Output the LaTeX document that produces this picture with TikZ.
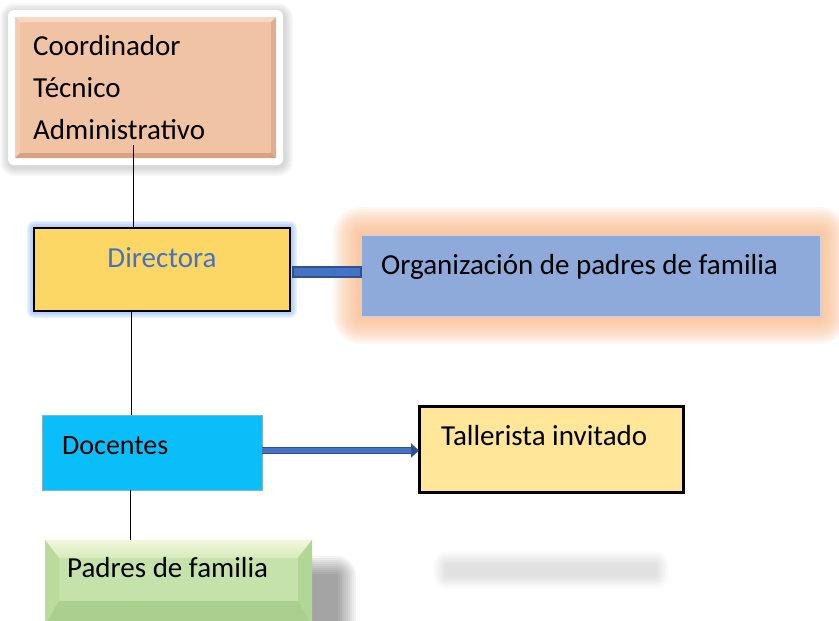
\documentclass[tikz,border=0pt]{standalone}
\usepackage{fontspec}
\setmainfont{Carlito}
\usetikzlibrary{arrows.meta,calc}
\pgfdeclarelayer{bg}
\pgfsetlayers{bg,main}
\definecolor{coordfill}{HTML}{F1C3A5}
\definecolor{coordlight}{HTML}{F8D8C3}
\definecolor{coordlight2}{HTML}{F5CDB3}
\definecolor{coorddark}{HTML}{D6A381}
\definecolor{coorddark2}{HTML}{DFAE8E}
\definecolor{dirfill}{HTML}{FDD766}
\definecolor{dirtext}{HTML}{4472C4}
\definecolor{dirglow}{HTML}{8FB4F0}
\definecolor{orgfill}{HTML}{8EAADB}
\definecolor{orgborder}{HTML}{C5D3EC}
\definecolor{orgglow}{HTML}{F8B98A}
\definecolor{barblue}{HTML}{4472C4}
\definecolor{bardark}{HTML}{2F528F}
\definecolor{docfill}{HTML}{0ABFF9}
\definecolor{docborder}{HTML}{7FB2D8}
\definecolor{talfill}{HTML}{FFE699}
\definecolor{padface}{HTML}{C6E2AB}
\definecolor{padtop}{HTML}{F2F8DA}
\definecolor{padtop2}{HTML}{D5EBBB}
\definecolor{padleft}{HTML}{BADB9C}
\definecolor{padright}{HTML}{B2D693}
\definecolor{padbot}{HTML}{A9D08E}
\begin{document}
\begin{tikzpicture}[x=1pt,y=-1pt,
  box/.style={rectangle, inner sep=0pt, outer sep=0pt, anchor=north west},
  lbl/.style={font=\fontsize{29}{43}\selectfont, inner sep=0pt, anchor=base west},
  conn/.style={draw=black, line width=0.9pt}]
\useasboundingbox (0,0) rectangle (839,621);

% frame and boxes
\node[box, fill=white, rounded corners=6pt, minimum width=275pt, minimum height=155pt] (frame) at (8,10) {};
\node[box, fill=coordfill, minimum width=261pt, minimum height=141pt] (coord) at (15,17) {};
\fill[coordlight] (coord.north west) -- (coord.north east) -- ($(coord.north east)+(-5,5)$) -- ($(coord.north west)+(5,5)$) -- cycle;
\fill[coordlight2] (coord.north west) -- ($(coord.north west)+(5,5)$) -- ($(coord.south west)+(5,-5)$) -- (coord.south west) -- cycle;
\fill[coorddark2] (coord.north east) -- ($(coord.north east)+(-5,5)$) -- ($(coord.south east)+(-5,-5)$) -- (coord.south east) -- cycle;
\fill[coorddark] (coord.south west) -- ($(coord.south west)+(5,-5)$) -- ($(coord.south east)+(-5,-5)$) -- (coord.south east) -- cycle;

\node[box, fill=dirfill, draw=black, line width=1.1pt, minimum width=256pt, minimum height=83pt] (dir) at (34,228) {};
\node[box, fill=orgfill, draw=orgborder, line width=1pt, minimum width=459pt, minimum height=81pt] (org) at (361,235) {};
\node[box, fill=docfill, draw=docborder, line width=0.6pt, minimum width=220pt, minimum height=75pt] (doc) at (42,415) {};
\node[box, fill=talfill, draw=black, line width=3pt, minimum width=264pt, minimum height=86pt] (tal) at (419,406) {};
\node[box, fill=padface, minimum width=267pt, minimum height=85pt] (pad) at (45,540) {};
\shade[top color=padtop, bottom color=padtop2] (pad.north west) -- (pad.north east) -- ($(pad.north east)+(-14,18)$) -- ($(pad.north west)+(14,18)$) -- cycle;
\fill[padleft] (pad.north west) -- ($(pad.north west)+(14,18)$) -- ($(pad.south west)+(14,-24)$) -- (pad.south west) -- cycle;
\fill[padright] (pad.north east) -- ($(pad.north east)+(-14,18)$) -- ($(pad.south east)+(-14,-24)$) -- (pad.south east) -- cycle;
\fill[padbot] (pad.south west) -- ($(pad.south west)+(14,-24)$) -- ($(pad.south east)+(-14,-24)$) -- (pad.south east) -- cycle;

% glows and shadows
\coordinate (blurc) at (551,570);
\begin{pgfonlayer}{bg}
  \foreach \i in {1,...,6} {
    \fill[black, opacity=0.028, rounded corners=\i*1.5pt+6pt]
      ([shift={(-1.5*\i+1,-1.5*\i+2)}]frame.north west) rectangle ([shift={(1.5*\i+1,1.5*\i+2)}]frame.south east);
  }
  \foreach \i in {1,...,14} {
    \fill[orgglow, opacity=0.1, rounded corners=\i*2pt]
      ([shift={(-2*\i,-2*\i)}]org.north west) rectangle ([shift={(2*\i,2*\i)}]org.south east);
  }
  \foreach \i in {1,...,5} {
    \fill[dirglow, opacity=0.2, rounded corners=\i*1.4pt]
      ([shift={(-1.4*\i,-1.4*\i)}]dir.north west) rectangle ([shift={(1.4*\i,1.4*\i)}]dir.south east);
  }
  \foreach \i in {1,...,10} {
    \fill[black, opacity=0.045, rounded corners=\i*2pt]
      ([shift={(26-2*\i,36-2*\i)}]pad.north west) rectangle ([shift={(24+2*\i,36+2*\i)}]pad.south east);
  }
  \foreach \i in {1,...,10} {
    \fill[black, opacity=0.012, rounded corners=\i*1.4pt]
      ([shift={(-104-1.4*\i,-5-1.4*\i)}]blurc) rectangle ([shift={(104+1.4*\i,5+1.4*\i)}]blurc);
  }
\end{pgfonlayer}

% texts
\node[lbl] (t1) at (33,55) {Coordinador};
\node[lbl] (t2) at (33,97) {Técnico};
\node[lbl] (t3) at (33,139.5) {Administrativo};
\node[lbl, anchor=base, text=dirtext] (dirT) at (162,267) {Directora};
\node[lbl] (orgT) at (381,274) {Organización de padres de familia};
\node[lbl, font=\fontsize{28}{34}\selectfont] (docT) at (62,454) {Docentes};
\node[lbl] (talT) at (441,445) {Tallerista invitado};
\node[lbl] (padT) at (67,577) {Padres de familia};

% connectors
\coordinate (l1) at (133,0);
\coordinate (l2) at (131,0);
\coordinate (l3) at (130,0);
\draw[conn] ([yshift=13pt]coord.south -| l1) -- (dir.north -| l1);
\draw[conn] (dir.south -| l2) -- (doc.north -| l2);
\draw[conn] (doc.south -| l3) -- (pad.north -| l3);
\draw[fill=barblue, draw=bardark, line width=1.2pt] ($(dir.east)+(3,-2.5)$) rectangle ($(dir.east -| org.west)+(0,7.5)$);
\draw[draw=bardark, line width=7pt, -{Triangle[length=8pt,width=14pt]}] ([yshift=2pt]doc.east) -- ([yshift=2pt]doc.east -| tal.west);
\draw[draw=barblue, line width=4.4pt, shorten >=8pt] ([yshift=2pt]doc.east) -- ([yshift=2pt]doc.east -| tal.west);
\end{tikzpicture}
\end{document}
